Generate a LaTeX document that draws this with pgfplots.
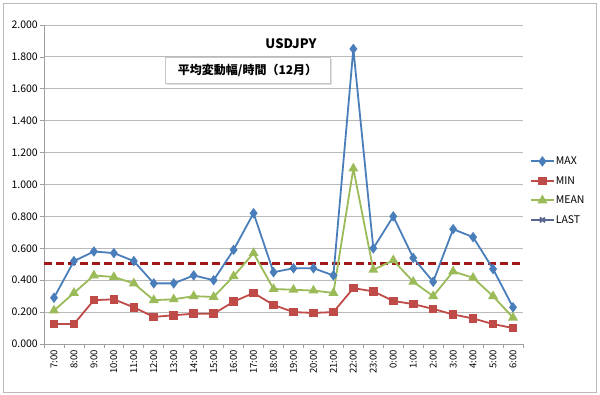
\documentclass[border=0pt]{standalone}
\usepackage{pgfplots}
\pgfplotsset{compat=1.18}
\usepackage{fontspec}
\setmainfont{Noto Sans CJK JP}
\definecolor{cmax}{HTML}{4A7EBB}
\definecolor{cmin}{HTML}{BE4B48}
\definecolor{cmean}{HTML}{9BBB59}
\definecolor{clast}{HTML}{5A6890}
\definecolor{cdash}{HTML}{A01818}
\begin{document}
\begin{tikzpicture}
\path (0bp,0bp) rectangle (600bp,395bp);
\draw[gray!55, line width=0.8bp] (3bp,3bp) rectangle (596bp,392bp);
\begin{axis}[
  at={(44bp,51bp)}, anchor=south west,
  scale only axis, width=479bp, height=319bp,
  xmin=-0.5, xmax=23.5, ymin=0, ymax=2,
  axis x line*=bottom, axis y line*=left,
  axis line style={-, draw=gray!75, line width=0.8bp},
  xtick={-0.5,0.5,...,23.5},
  x tick label as interval,
  xticklabels={7:00,8:00,9:00,10:00,11:00,12:00,13:00,14:00,15:00,16:00,17:00,18:00,19:00,20:00,21:00,22:00,23:00,0:00,1:00,2:00,3:00,4:00,5:00,6:00},
  xticklabel style={rotate=90, anchor=east, font=\fontsize{9.5bp}{10bp}\selectfont, inner sep=2bp},
  ytick={0,0.2,0.4,0.6,0.8,1.0,1.2,1.4,1.6,1.8,2.0},
  yticklabel style={font=\fontsize{10.5bp}{11bp}\selectfont, inner sep=2bp},
  /pgf/number format/assume math mode=true,
  yticklabel={\pgfmathprintnumber[fixed, fixed zerofill, precision=3]{\tick}},
  tick align=outside, major tick length=4bp,
  tick style={gray!75, line width=0.7bp},
  ymajorgrids, grid style={gray!55, line width=0.8bp},
  legend style={at={(1.008,0.595)}, anchor=north west, draw=none, fill=none,
    font=\fontsize{10.5bp}{11bp}\selectfont, row sep=9.5bp,
    nodes={inner sep=1bp, text height=7.5bp, text depth=0.5bp, anchor=west}},
  legend cell align=left,
  legend image code/.code={\draw[mark repeat=2,mark phase=2] plot coordinates {(0bp,0bp)(11.5bp,0bp)(23bp,0bp)};},
]
\addplot[cdash, line width=2.2bp, dash pattern=on 8bp off 4bp, forget plot] coordinates {(-0.5,0.505) (23.4,0.505)};
\addplot[cmax, line width=1.8bp, mark=diamond*, mark size=3.8bp, mark options={solid, fill=cmax}] coordinates {
(0,0.29) (1,0.52) (2,0.58) (3,0.57) (4,0.52) (5,0.38) (6,0.38) (7,0.43) (8,0.40) (9,0.59) (10,0.82) (11,0.45)
(12,0.475) (13,0.475) (14,0.43) (15,1.85) (16,0.60) (17,0.80) (18,0.54) (19,0.39) (20,0.72) (21,0.67) (22,0.47) (23,0.23)};
\addlegendentry{MAX}
\addplot[cmin, line width=1.8bp, mark=square*, mark size=3.4bp, mark options={solid, fill=cmin}] coordinates {
(0,0.125) (1,0.125) (2,0.275) (3,0.28) (4,0.23) (5,0.17) (6,0.18) (7,0.19) (8,0.19) (9,0.265) (10,0.32) (11,0.245)
(12,0.20) (13,0.195) (14,0.20) (15,0.35) (16,0.33) (17,0.27) (18,0.25) (19,0.22) (20,0.185) (21,0.16) (22,0.125) (23,0.10)};
\addlegendentry{MIN}
\addplot[cmean, line width=1.8bp, mark=triangle*, mark size=4bp, mark options={solid, fill=cmean}] coordinates {
(0,0.21) (1,0.32) (2,0.43) (3,0.42) (4,0.38) (5,0.275) (6,0.28) (7,0.30) (8,0.295) (9,0.425) (10,0.57) (11,0.345)
(12,0.34) (13,0.335) (14,0.32) (15,1.10) (16,0.465) (17,0.525) (18,0.39) (19,0.30) (20,0.455) (21,0.415) (22,0.30) (23,0.165)};
\addlegendentry{MEAN}
\addlegendimage{clast, line width=1.8bp, mark=x, mark size=3.5bp, mark options={solid}}
\addlegendentry{LAST}
\end{axis}
\node[font=\bfseries\fontsize{13bp}{14bp}\selectfont] at (291bp,351bp) {USDJPY};
\fill[gray!25] (167bp,310bp) rectangle (332bp,336bp);
\draw[gray!45, fill=white, line width=0.7bp] (165bp,312bp) rectangle (330bp,338bp);
\node[font=\bfseries\fontsize{12bp}{13bp}\selectfont] at (247.5bp,325bp) {平均変動幅/時間（12月）};
\end{tikzpicture}
\end{document}
